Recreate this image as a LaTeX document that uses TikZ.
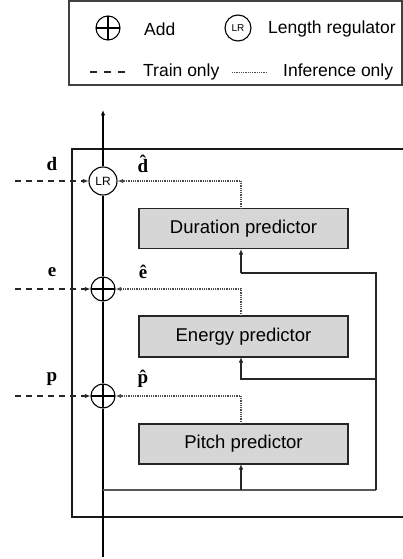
\documentclass[tikz,border=0pt]{standalone}
\usepackage{fontspec}
\setmainfont{Liberation Sans}
\newfontfamily\lblfont{Liberation Serif}
\usetikzlibrary{arrows.meta,calc}
\begin{document}
\begin{tikzpicture}[x=1pt,y=-1pt,
  tip/.style={-{Latex[length=5.5pt,width=4.5pt]}},
  predbox/.style={draw=black!85,line width=1.5pt,fill=black!16,minimum width=209pt,minimum height=40pt,inner sep=0pt,font=\fontsize{18.5}{21}\selectfont},
  addc/.style={circle,draw,line width=1.1pt,minimum size=24pt,inner sep=0pt,
    path picture={\draw[line width=1.1pt] (path picture bounding box.north) -- (path picture bounding box.south)
      (path picture bounding box.west) -- (path picture bounding box.east);}},
  lrc/.style={circle,draw,line width=1.1pt,fill=white,inner sep=0pt},
  trainl/.style={dash pattern=on 6pt off 5pt,line width=1.1pt,black!85},
  infl/.style={dash pattern=on 1pt off 0.8pt,line width=1.1pt,black!70},
  fb/.style={line width=1.1pt,black!85},
  lbl/.style={font=\lblfont\bfseries\fontsize{19}{21}\selectfont},
  legtxt/.style={anchor=west,inner sep=0pt,font=\fontsize{17.5}{20}\selectfont}]
\useasboundingbox (0,0) rectangle (403,559);
\clip (0,0) rectangle (403,559);
% legend
\draw[line width=1.4pt,black!75] (69,1) rectangle (402,85);
\node[addc] (ladd) at (108,28) {};
\node[legtxt] (laddt) at (144,29) {Add};
\node[lrc,minimum size=26pt,font=\fontsize{10}{11}\selectfont] (llr) at (238,28) {LR};
\node[legtxt] (llrt) at (268,29) {Length regulator};
\coordinate (ltr1) at (90,72); \coordinate (ltr2) at (126,72);
\draw[trainl,dash pattern=on 7pt off 7pt] (ltr1) -- (ltr2);
\node[legtxt] (ltrt) at (143,72) {Train only};
\coordinate (linf1) at (232,72); \coordinate (linf2) at (267,72);
\draw[infl,line width=0.8pt] (linf1) -- (linf2);
\node[legtxt] (linft) at (283,72) {Inference only};
% main box
\draw[line width=2pt,black!90] (72,149) rectangle (420,517);
% nodes
\coordinate (top) at (103,110);
\coordinate (bot) at (103,557);
\node[lrc,minimum size=28pt,font=\fontsize{12}{13}\selectfont] (lr) at (103,181) {LR};
\node[addc] (adde) at (103,289) {};
\node[addc] (addp) at (103,396) {};
\node[predbox] (dur) at (243.5,228.5) {Duration predictor};
\node[predbox,minimum height=41pt] (ene) at (243.5,336.5) {Energy predictor};
\node[predbox] (pit) at (243.5,444) {Pitch predictor};
% main line
\draw[line width=1.1pt] (bot) -- (addp.south);
\draw[line width=1.1pt] (addp.north) -- (adde.south);
\draw[line width=1.1pt] (adde.north) -- (lr.south);
\draw[line width=1.1pt,tip] (lr.north) -- (top);
% train inputs
\coordinate (dt) at (15,181);
\coordinate (et) at (15,289);
\coordinate (pt) at (15,396);
\draw[trainl,tip] (dt) -- (lr.west);
\draw[trainl,tip] (et) -- (adde.west);
\draw[trainl,tip] (pt) -- (addp.west);
\node[lbl] (dl) at (52,164) {d};
\node[lbl] (el) at (52,272) {e};
\node[lbl] (pl) at (52,379) {p};
\node[lbl] (dh) at (143,164) {\^{d}};
\node[lbl] (eh) at (143,272) {\^{e}};
\node[lbl] (ph) at (143,379) {\^{p}};
% inference outputs
\coordinate (dtop) at (241,209);
\coordinate (etop) at (241,316);
\coordinate (ptop) at (241,424);
\draw[infl,tip] (dtop) |- (lr.east);
\draw[infl,tip] (etop) |- (adde.east);
\draw[infl,tip] (ptop) |- (addp.east);
% feedback
\coordinate (j0) at (103,490);
\coordinate (br) at (376,490);
\coordinate (be) at (376,379);
\coordinate (dbot) at (241,249);
\coordinate (ebot) at (241,357);
\coordinate (pbot) at (241,464);
\coordinate (dturn) at (241,273);
\draw[line width=1.4pt,black!65] (j0) -- (br);
\draw[fb] (br) |- (dturn);
\draw[fb,tip] (dturn) -- (dbot);
\draw[fb,tip] (be) -| (ebot);
\draw[fb,tip] (pbot |- j0) -- (pbot);
\end{tikzpicture}
\end{document}
